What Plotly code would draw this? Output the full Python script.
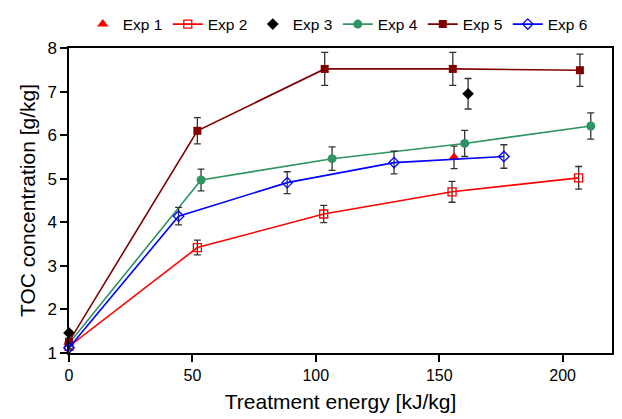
import plotly.graph_objects as go

# Data
exp1_x = [0, 156]
exp1_y = [1.25, 5.49]
exp1_e = [0.05, 0.26]

exp2_x = [0, 52, 103.2, 155.2, 206.5]
exp2_y = [1.15, 3.42, 4.19, 4.70, 5.02]
exp2_e = [0.05, 0.17, 0.2, 0.24, 0.26]

exp3_x = [0, 161.7]
exp3_y = [1.46, 6.95]
exp3_e = [0.05, 0.35]

exp4_x = [0, 53.5, 106.6, 160.3, 211.4]
exp4_y = [1.22, 4.97, 5.46, 5.81, 6.21]
exp4_e = [0.05, 0.25, 0.27, 0.3, 0.3]

exp5_x = [0, 52, 103.6, 155.5, 207]
exp5_y = [1.26, 6.1, 7.52, 7.52, 7.49]
exp5_e = [0.05, 0.3, 0.38, 0.38, 0.37]

exp6_x = [0, 44.4, 88.4, 131.7, 176.2]
exp6_y = [1.12, 4.14, 4.91, 5.37, 5.51]
exp6_e = [0.05, 0.2, 0.25, 0.26, 0.27]

FONT = "Liberation Sans, Arial, sans-serif"
err_style = dict(type="data", visible=True, color="#333333", thickness=1.3, width=3.5)

series = [
    ("Exp 1", exp1_x, exp1_y, exp1_e, "markers", "#ff0000", dict(symbol="triangle-up", size=10)),
    ("Exp 2", exp2_x, exp2_y, exp2_e, "lines+markers", "#ff0000", dict(symbol="square-open", size=8, line=dict(width=1.3))),
    ("Exp 3", exp3_x, exp3_y, exp3_e, "markers", "#000000", dict(symbol="diamond", size=9)),
    ("Exp 4", exp4_x, exp4_y, exp4_e, "lines+markers", "#2e9463", dict(symbol="circle", size=9)),
    ("Exp 5", exp5_x, exp5_y, exp5_e, "lines+markers", "#800000", dict(symbol="square", size=8)),
    ("Exp 6", exp6_x, exp6_y, exp6_e, "lines+markers", "#0000ff", dict(symbol="diamond-open", size=8, line=dict(width=1.3))),
]

fig = go.Figure()
for name, xs, ys, es, mode, col, mk in series:
    mk = dict(mk)
    mk["color"] = col
    if "line" in mk:
        mk["line"] = dict(mk["line"], color=col)
    fig.add_trace(go.Scatter(
        x=xs, y=ys, name=name, mode=mode,
        line=dict(color=col, width=1.6),
        marker=mk,
        error_y=dict(array=es, **err_style),
        cliponaxis=False,
    ))

fig.update_layout(
    width=622, height=419,
    margin=dict(l=69, r=8, t=43, b=66),
    paper_bgcolor="white", plot_bgcolor="white",
    font=dict(family=FONT, size=15, color="black"),
    showlegend=True,
    legend=dict(orientation="h", x=0.495, xanchor="center", y=1.077, yanchor="middle",
                font=dict(size=15.5), itemwidth=30, entrywidth=40, entrywidthmode="pixels",
                bgcolor="rgba(0,0,0,0)"),
    xaxis=dict(
        range=[0, 220], tickvals=[0, 50, 100, 150, 200],
        showline=True, linecolor="black", linewidth=1.5, mirror=True,
        ticks="outside", ticklen=7, tickcolor="black", tickwidth=1.5,
        showgrid=False, zeroline=False,
        tickfont=dict(size=16),
        title=dict(text="Treatment energy [kJ/kg]", font=dict(size=21), standoff=11),
    ),
    yaxis=dict(
        range=[1, 8], tickvals=[1, 2, 3, 4, 5, 6, 7, 8],
        showline=True, linecolor="black", linewidth=1.5, mirror=True,
        ticks="outside", ticklen=7, tickcolor="black", tickwidth=1.5,
        showgrid=False, zeroline=False,
        tickfont=dict(size=17),
        title=dict(text="TOC concentration [g/kg]", font=dict(size=21), standoff=6),
    ),
)

fig.write_html("out.html")
